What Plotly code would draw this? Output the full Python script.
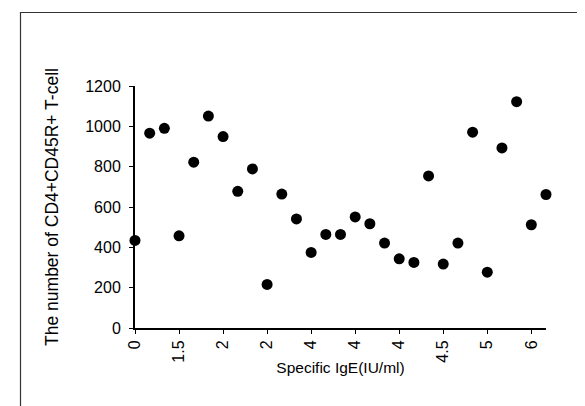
import plotly.graph_objects as go

# Data
cell_counts = [434, 966, 990, 457, 822, 1051, 949, 678, 789, 216,
               664, 541, 375, 464, 464, 551, 517, 421, 343, 325,
               754, 317, 421, 971, 277, 893, 1122, 512, 662]
ige_tick_labels = ["0", "1.5", "2", "2", "4", "4", "4", "4.5", "5", "6"]
label_every = 3

x_pos = list(range(len(cell_counts)))
tick_pos = [i * label_every for i in range(len(ige_tick_labels))]

W, H = 585, 406
L, R, T, B = 127, 47, 78, 86
pw, ph = W - L - R, H - T - B

def px_to_paper_x(px):
    return (px - L) / pw

def px_to_paper_y(py):
    return (H - B - py) / ph

fig = go.Figure()
fig.add_trace(go.Scatter(
    x=x_pos, y=cell_counts, mode="markers",
    marker=dict(color="black", size=11, line=dict(width=0)),
    showlegend=False, cliponaxis=False,
))

font_family = "Liberation Sans, Arial, sans-serif"

fig.update_layout(
    width=W, height=H,
    margin=dict(l=L, r=R, t=T, b=B, pad=0),
    paper_bgcolor="white", plot_bgcolor="white",
    font=dict(family=font_family, color="black", size=16),
    xaxis=dict(
        range=[0, len(cell_counts) - 1],
        tickmode="array", tickvals=tick_pos, ticktext=ige_tick_labels,
        tickangle=-90, ticks="outside", ticklen=4, tickcolor="black",
        ticklabelstandoff=0,
        showline=True, linecolor="black", linewidth=2,
        showgrid=False, zeroline=False,
        tickfont=dict(size=16),
        title=dict(text="Specific IgE(IU/ml)", font=dict(size=15.5), standoff=0),
    ),
    yaxis=dict(
        range=[0, 1200], tickmode="array",
        tickvals=[0, 200, 400, 600, 800, 1000, 1200],
        ticks="outside", ticklen=4, tickcolor="black",
        ticklabelstandoff=5,
        showline=True, linecolor="black", linewidth=2,
        showgrid=False, zeroline=False,
        tickfont=dict(size=16),
        title=dict(text="The number of CD4+CD45R+ T-cell", font=dict(size=17.5), standoff=22),
    ),
    shapes=[dict(
        type="rect", xref="paper", yref="paper",
        x0=px_to_paper_x(12.5), x1=px_to_paper_x(600),
        y0=px_to_paper_y(403), y1=px_to_paper_y(4.5),
        line=dict(color="#333333", width=1.2), fillcolor="rgba(0,0,0,0)",
        layer="below",
    )],
)

fig.write_html("out.html")
